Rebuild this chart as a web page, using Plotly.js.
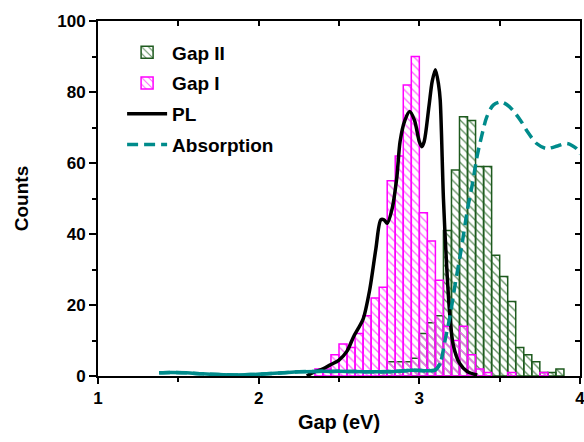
<!DOCTYPE html>
<html>
<head>
<meta charset="utf-8">
<script src="https://cdn.plot.ly/plotly-3.0.1.min.js"></script>
<style>html,body{margin:0;padding:0;background:#fff;}#chart{width:584px;height:442px;}</style>
</head>
<body>
<div id="chart"></div>
<script>
// Histogram bins (centres, eV) and counts
const gapIICenters = [2.775, 2.825, 2.875, 2.925, 2.975, 3.025, 3.075, 3.125, 3.175, 3.225, 3.275, 3.325, 3.375, 3.425, 3.475, 3.525, 3.575, 3.625, 3.675, 3.725, 3.775, 3.825, 3.875];
const gapIICounts  = [1, 4, 4, 4, 5, 12, 15, 17, 41, 58, 73, 72, 59, 59, 34, 28, 21, 8, 6, 4, 1, 1, 2];

const gapICenters = [2.375, 2.425, 2.475, 2.525, 2.575, 2.625, 2.675, 2.725, 2.775, 2.825, 2.875, 2.925, 2.975, 3.025, 3.075, 3.125, 3.175, 3.225, 3.275, 3.325, 3.375, 3.425, 3.575, 3.775];
const gapICounts  = [2, 2, 6, 9, 8, 12, 17, 22, 25, 55, 62, 82, 90, 46, 38, 27, 14, 10, 14, 6, 2, 1, 1, 1];

// PL spectrum (scaled)
const plX = [2.30, 2.34, 2.40, 2.44, 2.50, 2.55, 2.59, 2.62, 2.65, 2.69, 2.73, 2.76, 2.78, 2.80, 2.83, 2.86, 2.88, 2.91, 2.94, 2.97, 3.00, 3.015, 3.03, 3.06, 3.08, 3.10, 3.12, 3.13, 3.15, 3.17, 3.19, 3.21, 3.25, 3.30, 3.36];
const plY = [0, 1, 2, 3, 4.5, 7, 11, 13.4, 16, 24, 36, 44, 44, 43, 47, 56, 66, 72, 74.5, 72, 66, 64.6, 66, 76, 83, 86.3, 82, 77.7, 50, 31, 17, 9, 3.6, 1.2, 0.3];

// Absorption spectrum (scaled)
const absX = [1.38, 1.45, 1.55, 1.65, 1.75, 1.85, 1.95, 2.05, 2.15, 2.25, 2.35, 2.45, 2.55, 2.65, 2.75, 2.85, 2.95, 3.05, 3.10, 3.13, 3.16, 3.19, 3.22, 3.26, 3.30, 3.33, 3.36, 3.39, 3.42, 3.46, 3.51, 3.56, 3.63, 3.67, 3.73, 3.79, 3.86, 3.92, 3.98, 4.0];
const absY = [0.9, 1.0, 0.9, 0.6, 0.4, 0.3, 0.4, 0.6, 0.9, 1.2, 1.3, 1.3, 1.3, 1.2, 1.2, 1.3, 1.6, 1.5, 1.7, 3.6, 10, 16.7, 25, 35.5, 47, 54, 62, 68, 73, 76.3, 77.2, 75.9, 72, 69, 65.5, 64.1, 64.8, 65.5, 64, 62.5];

const xTicks = [1, 2, 3, 4];
const yTicks = [0, 20, 40, 60, 80, 100];
const binWidth = 0.05;

const FONT = 'Liberation Sans, Arial, sans-serif';
const TEAL = '#008b8b';

const solidCut = 3.13;
const absSolidX = absX.filter(v => v <= solidCut);
const absSolidY = absY.slice(0, absSolidX.length);

const traces = [
  {
    type: 'bar', name: 'Gap II', x: gapIICenters, y: gapIICounts,
    width: gapIICenters.map(() => binWidth),
    legendgroup: 'g2',
    marker: {
      color: 'rgba(0,0,0,0)',
      line: {color: '#1e5a1e', width: 1.5},
      pattern: {shape: '\\', fgcolor: '#5f8f5f', bgcolor: 'rgba(0,0,0,0)', size: 6, solidity: 0.22, fillmode: 'replace'}
    }
  },
  {
    type: 'bar', name: 'Gap I', x: gapICenters, y: gapICounts,
    width: gapICenters.map(() => binWidth),
    legendgroup: 'g1',
    marker: {
      color: 'rgba(0,0,0,0)',
      line: {color: '#ff00ff', width: 1.5},
      pattern: {shape: '\\', fgcolor: '#ff66ff', bgcolor: 'rgba(0,0,0,0)', size: 6, solidity: 0.22, fillmode: 'replace'}
    }
  },
  {
    type: 'scatter', mode: 'lines', name: 'PL', x: plX, y: plY,
    legendgroup: 'pl',
    line: {color: '#000000', width: 3.5, shape: 'spline', smoothing: 0.8}
  },
  {
    type: 'scatter', mode: 'lines', name: 'Absorption', x: absX, y: absY,
    legendgroup: 'abs',
    line: {color: TEAL, width: 3.5, dash: '11px,6px', shape: 'spline', smoothing: 0.8}
  },
  {
    type: 'scatter', mode: 'lines', name: 'Absorption', x: absSolidX, y: absSolidY,
    legendgroup: 'abs', showlegend: false,
    line: {color: TEAL, width: 3.5, shape: 'spline', smoothing: 0.8}
  },
  // invisible trace carrying the mirrored (inward-tick) axes
  {type: 'scatter', x: [1, 4], y: [0, 100], xaxis: 'x2', yaxis: 'y2', mode: 'none', showlegend: false, hoverinfo: 'skip'}
];

const axisCommon = {
  showgrid: false, zeroline: false, showline: true,
  linecolor: '#000', linewidth: 2,
  tickcolor: '#000', tickwidth: 2,
  ticklabeloverflow: 'allow',
  tickfont: {family: FONT, size: 17, color: '#000', weight: 'bold'}
};

const layout = {
  width: 584, height: 442,
  margin: {l: 98, r: 4, t: 21, b: 66},
  paper_bgcolor: '#fff', plot_bgcolor: '#fff',
  barmode: 'overlay',
  showlegend: true,
  legend: {
    x: 0.05, y: 0.965, xanchor: 'left', yanchor: 'top',
    bgcolor: 'rgba(0,0,0,0)', borderwidth: 0,
    font: {family: FONT, size: 19, color: '#000', weight: 'bold'},
    traceorder: 'grouped', tracegroupgap: 3, itemwidth: 40
  },
  xaxis: Object.assign({}, axisCommon, {
    range: [1, 4], tickvals: xTicks, ticktext: xTicks.map(String),
    ticks: 'outside', ticklen: 6,
    minor: {tickvals: [1.5, 2.5, 3.5], ticks: 'outside', ticklen: 4, tickcolor: '#000', tickwidth: 2},
    title: {text: 'Gap (eV)', font: {family: FONT, size: 20, color: '#000', weight: 'bold'}, standoff: 8}
  }),
  yaxis: Object.assign({}, axisCommon, {
    range: [0, 100], tickvals: yTicks, ticktext: yTicks.map(String),
    ticks: 'outside', ticklen: 7,
    minor: {tickvals: [10, 30, 50, 70, 90], ticks: 'outside', ticklen: 4, tickcolor: '#000', tickwidth: 2},
    title: {text: 'Counts', font: {family: FONT, size: 19, color: '#000', weight: 'bold'}, standoff: 24}
  }),
  xaxis2: Object.assign({}, axisCommon, {
    overlaying: 'x', side: 'top', anchor: 'y2', range: [1, 4],
    tickvals: [1, 1.5, 2, 2.5, 3, 3.5, 4], ticks: 'inside', ticklen: 5, showticklabels: false
  }),
  yaxis2: Object.assign({}, axisCommon, {
    overlaying: 'y', side: 'right', anchor: 'x2', range: [0, 100],
    tickvals: [0, 10, 20, 30, 40, 50, 60, 70, 80, 90, 100], ticks: 'inside', ticklen: 5, showticklabels: false
  })
};

Plotly.newPlot('chart', traces, layout, {staticPlot: true, displayModeBar: false});
</script>
</body>
</html>
